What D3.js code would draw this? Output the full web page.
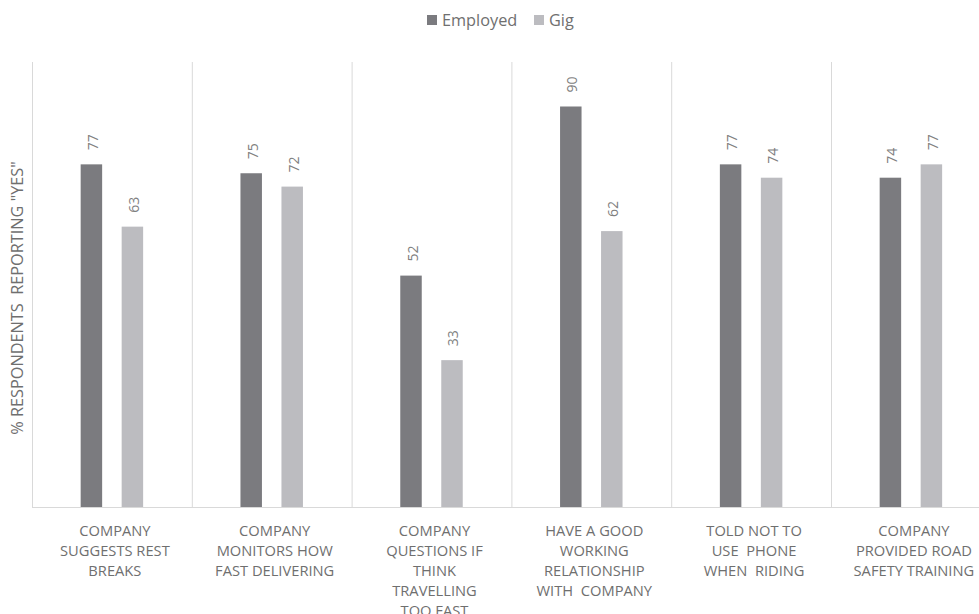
<!DOCTYPE html>
<html>
<head>
<meta charset="utf-8">
<script src="https://cdn.jsdelivr.net/npm/d3@7"></script>
<style>
  html, body { margin: 0; padding: 0; background: #fff; }
  svg { display: block; }
  text { font-family: "Open Sans", "Liberation Sans", sans-serif; white-space: pre; }
</style>
</head>
<body>
<svg id="chart" width="979" height="614"></svg>
<script>
// Survey categories (label lines as displayed)
const categories = [
  "suggest", "monitor", "questions", "relationship", "phone", "training"
];
const categoryLines = [
  ["COMPANY", "SUGGESTS REST", "BREAKS"],
  ["COMPANY", "MONITORS HOW", "FAST DELIVERING"],
  ["COMPANY", "QUESTIONS IF", "THINK", "TRAVELLING", "TOO FAST"],
  ["HAVE A GOOD", "WORKING", "RELATIONSHIP", "WITH  COMPANY"],
  ["TOLD NOT TO", "USE  PHONE", "WHEN  RIDING"],
  ["COMPANY", "PROVIDED ROAD", "SAFETY TRAINING"]
];
const seriesNames = ["Employed", "Gig"];
const employedValues = [77, 75, 52, 90, 77, 74];
const gigValues = [63, 72, 33, 62, 74, 77];
const seriesColors = ["#7b7b7f", "#bcbcc0"];
const yTitle = '% RESPONDENTS  REPORTING "YES"';

const svg = d3.select("#chart");

const plot = { left: 32, top: 62, bottom: 507, catWidth: 159.8 };

const x = d3.scaleBand()
  .domain(categories)
  .range([plot.left, plot.left + plot.catWidth * categories.length])
  .paddingInner(0).paddingOuter(0);

const xSub = d3.scaleBand()
  .domain(seriesNames)
  .range([0, x.bandwidth()])
  .paddingInner(0.476)
  .paddingOuter(1.187);

const y = d3.scaleLinear().domain([0, 100]).range([plot.bottom, plot.top]);

const rows = categories.map((c, i) => ({
  cat: c,
  values: [
    { name: seriesNames[0], value: employedValues[i] },
    { name: seriesNames[1], value: gigValues[i] }
  ]
}));

// Vertical category dividers
svg.append("g")
  .selectAll("line")
  .data(categories)
  .join("line")
  .attr("x1", d => x(d) + 0.5)
  .attr("x2", d => x(d) + 0.5)
  .attr("y1", y(100))
  .attr("y2", y(0))
  .attr("stroke", "#d9d9d9")
  .attr("stroke-width", 1);

// Bars
const groups = svg.append("g")
  .selectAll("g")
  .data(rows)
  .join("g")
  .attr("transform", d => `translate(${x(d.cat)},0)`);

groups.selectAll("rect")
  .data(d => d.values)
  .join("rect")
  .attr("x", d => xSub(d.name))
  .attr("width", xSub.bandwidth())
  .attr("y", d => y(d.value))
  .attr("height", d => y(0) - y(d.value))
  .attr("fill", (d, i) => seriesColors[i]);

// Value labels, rotated above each bar
groups.selectAll("text.val")
  .data(d => d.values)
  .join("text")
  .attr("class", "val")
  .attr("transform", d => `translate(${xSub(d.name) + xSub.bandwidth() / 2 + 6.5},${y(d.value) - 14}) rotate(-90)`)
  .attr("text-anchor", "start")
  .attr("font-size", 14)
  .attr("fill", "#808080")
  .text(d => d.value);

// Baseline
svg.append("line")
  .attr("x1", plot.left)
  .attr("x2", 979)
  .attr("y1", y(0) + 0.5)
  .attr("y2", y(0) + 0.5)
  .attr("stroke", "#d9d9d9")
  .attr("stroke-width", 1);

// Category labels
const catLabels = svg.append("g")
  .selectAll("text")
  .data(categories)
  .join("text")
  .attr("text-anchor", "middle")
  .attr("font-size", 14.7)
  .attr("fill", "#6f6f6f");

catLabels.each(function(d, i) {
  const t = d3.select(this);
  categoryLines[i].forEach((line, j) => {
    t.append("tspan")
      .attr("x", x(d) + x.bandwidth() / 2 + 3)
      .attr("y", 535.5 + j * 20.2)
      .text(line);
  });
});

// Y axis title
svg.append("text")
  .attr("transform", `translate(23,298) rotate(-90)`)
  .attr("text-anchor", "middle")
  .attr("font-size", 16.3)
  .attr("fill", "#6f6f6f")
  .text(yTitle);

// Legend
const legend = svg.append("g").attr("transform", "translate(427,20)");
const legendX = [0, 107];
seriesNames.forEach((name, i) => {
  const g = legend.append("g").attr("transform", `translate(${legendX[i]},0)`);
  g.append("rect").attr("x", 0).attr("y", -5).attr("width", 10).attr("height", 10)
    .attr("fill", seriesColors[i]);
  g.append("text").attr("x", 15).attr("y", 6)
    .attr("font-size", 16.3).attr("fill", "#6f6f6f").text(name);
});
</script>
</body>
</html>
